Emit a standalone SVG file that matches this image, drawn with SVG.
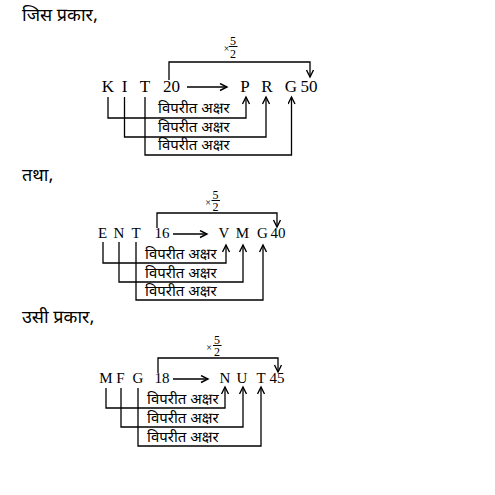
<svg xmlns="http://www.w3.org/2000/svg" width="495" height="495" viewBox="0 0 495 495">
<defs>
<marker id="ah" markerWidth="10" markerHeight="10" refX="8" refY="4" orient="auto" markerUnits="userSpaceOnUse">
<path d="M1,0.5 L8,4 L1,7.5" fill="none" stroke="#000" stroke-width="1.4"/>
</marker>
<style>
.c{fill:none;stroke:#000;stroke-width:1.3}
.a{marker-end:url(#ah)}
.s1{font-family:"Liberation Serif","Times New Roman",serif;font-size:17px;fill:#000;text-anchor:middle}
.s2{font-family:"Liberation Serif","Times New Roman",serif;font-size:15px;fill:#000;text-anchor:middle}
.f{font-family:"Liberation Serif","Times New Roman",serif;font-size:12px;fill:#000;text-anchor:middle}
.x{font-family:"Liberation Serif","Times New Roman",serif;font-size:10px;fill:#000;text-anchor:middle}
.d{font-family:"Noto Sans Devanagari","Noto Sans","Lohit Devanagari",sans-serif;font-size:15px;fill:#000}
.h{font-family:"Noto Sans Devanagari","Noto Sans","Lohit Devanagari",sans-serif;font-size:18px;fill:#000}
</style>
</defs>

<g id="headings">
<text class="h" x="22" y="21">जिस प्रकार,</text>
<text class="h" x="22" y="181">तथा,</text>
<text class="h" x="22" y="323">उसी प्रकार,</text>
</g>

<!-- Block 1 -->
<g id="block1-letters">
<text class="s1" x="108" y="92">K</text>
<text class="s1" x="124.5" y="92">I</text>
<text class="s1" x="145" y="92">T</text>
<text class="s1" x="171.5" y="92">20</text>
<text class="s1" x="245" y="92">P</text>
<text class="s1" x="267" y="92">R</text>
<text class="s1" x="291" y="92">G</text>
<text class="s1" x="309" y="92">50</text>
</g>
<g id="block1-factor">
<text class="x" x="226.5" y="52">×</text>
<text class="f" x="233" y="44.5">5</text>
<line x1="229" y1="46.5" x2="237.5" y2="46.5" stroke="#000" stroke-width="1"/>
<text class="f" x="233" y="58">2</text>
</g>
<g id="block1-labels">
<text class="d" x="158" y="113">विपरीत अक्षर</text>
<text class="d" x="158" y="132">विपरीत अक्षर</text>
<text class="d" x="158" y="150">विपरीत अक्षर</text>
</g>

<!-- Block 2 -->
<g id="block2-letters">
<text class="s2" x="102.5" y="238">E</text>
<text class="s2" x="119" y="238">N</text>
<text class="s2" x="136" y="238">T</text>
<text class="s2" x="162" y="238">16</text>
<text class="s2" x="224" y="238">V</text>
<text class="s2" x="242.5" y="238">M</text>
<text class="s2" x="262.5" y="238">G</text>
<text class="s2" x="278" y="238">40</text>
</g>
<g id="block2-factor">
<text class="x" x="208" y="206">×</text>
<text class="f" x="215.5" y="198.5">5</text>
<line x1="211.5" y1="200.5" x2="220" y2="200.5" stroke="#000" stroke-width="1"/>
<text class="f" x="215.5" y="211">2</text>
</g>
<g id="block2-labels">
<text class="d" x="145" y="259">विपरीत अक्षर</text>
<text class="d" x="145" y="278">विपरीत अक्षर</text>
<text class="d" x="145" y="296">विपरीत अक्षर</text>
</g>

<!-- Block 3 -->
<g id="block3-letters">
<text class="s2" x="106" y="383">M</text>
<text class="s2" x="120.5" y="383">F</text>
<text class="s2" x="138" y="383">G</text>
<text class="s2" x="162" y="383">18</text>
<text class="s2" x="225" y="383">N</text>
<text class="s2" x="242" y="383">U</text>
<text class="s2" x="261" y="383">T</text>
<text class="s2" x="277" y="383">45</text>
</g>
<g id="block3-factor">
<text class="x" x="209" y="351">×</text>
<text class="f" x="217" y="343.5">5</text>
<line x1="213" y1="345.5" x2="221.5" y2="345.5" stroke="#000" stroke-width="1"/>
<text class="f" x="217" y="356">2</text>
</g>
<g id="block3-labels">
<text class="d" x="147" y="404">विपरीत अक्षर</text>
<text class="d" x="147" y="423">विपरीत अक्षर</text>
<text class="d" x="147" y="442">विपरीत अक्षर</text>
</g>

<g id="connectors">
<!-- block 1 -->
<path class="c a" d="M187,87 H227"/>
<path class="c a" d="M169,80 V62 H310 V77"/>
<path class="c a" d="M108,97 V118 H246 V97"/>
<path class="c a" d="M124.5,97 V137 H266 V97"/>
<path class="c a" d="M145,97 V155 H291.5 V97"/>
<!-- block 2 -->
<path class="c a" d="M173,234 H207"/>
<path class="c a" d="M157,228 V213 H277 V227"/>
<path class="c a" d="M103,242 V263 H226 V245"/>
<path class="c a" d="M119,242 V282 H243 V245"/>
<path class="c a" d="M136,242 V300 H263 V245"/>
<!-- block 3 -->
<path class="c a" d="M173,379 H208"/>
<path class="c a" d="M158,373 V358 H278 V372"/>
<path class="c a" d="M106,388 V408 H225 V387"/>
<path class="c a" d="M121,388 V427 H243 V387"/>
<path class="c a" d="M138,388 V446 H261 V387"/>
</g>
</svg>
